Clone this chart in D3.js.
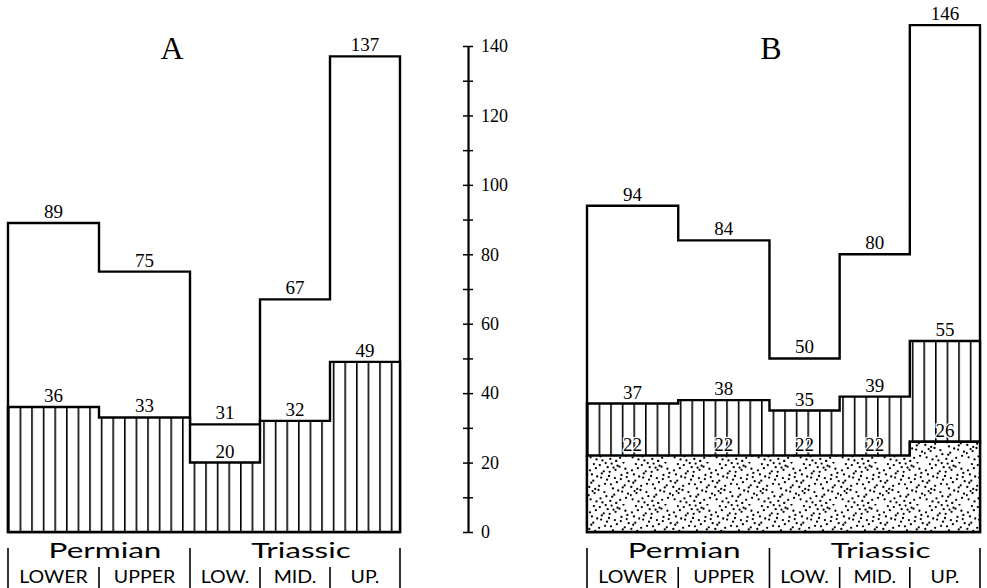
<!DOCTYPE html>
<html>
<head>
<meta charset="utf-8">
<script src="https://cdn.jsdelivr.net/npm/d3@7"></script>
<style>
  body { margin: 0; background: #fff; }
  svg { display: block; }
</style>
</head>
<body>
<div id="chart"></div>
<script>
// Geological time division (relative durations give the step widths)
let periods = ['Permian', 'Triassic'];
let periodStages = [2, 3];            // how many stages in each period
let stages = ['LOWER', 'UPPER', 'LOW.', 'MID.', 'UP.'];
let stageDuration = [1.3, 1.3, 1, 1, 1];

// Panel A: total and hatched values per stage
let totalA = [89, 75, 31, 67, 137];
let hatchA = [36, 33, 20, 32, 49];

// Panel B: total, hatched and stippled values per stage
let totalB = [94, 84, 50, 80, 146];
let hatchB = [37, 38, 35, 39, 55];
let dotsB = [22, 22, 22, 22, 26];

let yTicks = d3.range(0, 141, 10);

// Chart dimensions
let dim = { width: 987, height: 588 };

let svg = d3.select('#chart').append('svg')
    .attr('width', dim.width)
    .attr('height', dim.height);

// y scale shared by both panels
let y = d3.scaleLinear().domain([0, 140]).range([532, 46]);

// stage edges in time units
let edges = [0, ...d3.cumsum(stageDuration)];

let defs = svg.append('defs');

// vertical hatching, one pattern per panel so it starts at its left edge
function hatchPattern(id, x0) {
    let p = defs.append('pattern')
        .attr('id', id)
        .attr('patternUnits', 'userSpaceOnUse')
        .attr('x', x0)
        .attr('y', 0)
        .attr('width', 11.6)
        .attr('height', 20);
    p.append('rect').attr('width', 11.6).attr('height', 20).attr('fill', '#fff');
    p.append('line')
        .attr('x1', 0.8).attr('x2', 0.8)
        .attr('y1', 0).attr('y2', 20)
        .attr('stroke', '#000')
        .attr('stroke-width', 1.6);
}

// stipple: low discrepancy dots inside a tile
function halton(i, b) {
    let f = 1, r = 0;
    while (i > 0) { f /= b; r += f * (i % b); i = Math.floor(i / b); }
    return r;
}
let stip = defs.append('pattern')
    .attr('id', 'stipple')
    .attr('patternUnits', 'userSpaceOnUse')
    .attr('width', 42).attr('height', 42);
stip.append('rect').attr('width', 42).attr('height', 42).attr('fill', '#fff');
stip.selectAll('circle')
    .data(d3.range(1, 58))
    .join('circle')
    .attr('cx', i => halton(i, 2) * 42)
    .attr('cy', i => halton(i, 3) * 42)
    .attr('r', 1.15)
    .attr('fill', '#000');

let panels = [
    { name: 'A', x0: 8, x1: 400, titleX: 172, layers: [
        { vals: totalA, base: null, fill: '#fff' },
        { vals: hatchA, base: null, fill: 'url(#hatchA)' }
    ], labels: [totalA, hatchA] },
    { name: 'B', x0: 587, x1: 980, titleX: 771, layers: [
        { vals: totalB, base: null, fill: '#fff' },
        { vals: hatchB, base: dotsB, fill: 'url(#hatchB)' },
        { vals: dotsB, base: null, fill: 'url(#stipple)' }
    ], labels: [totalB, hatchB, dotsB] }
];

hatchPattern('hatchA', panels[0].x0);
hatchPattern('hatchB', panels[1].x0);

// closed step shape between vals and base (or the zero line)
function stepShape(x, vals, base) {
    let top = [];
    vals.forEach((v, i) => {
        top.push([x(edges[i]), y(v)], [x(edges[i + 1]), y(v)]);
    });
    let bottom = [];
    if (base) {
        base.forEach((v, i) => {
            bottom.push([x(edges[i]), y(v)], [x(edges[i + 1]), y(v)]);
        });
    } else {
        bottom = [[x(edges[0]), y(0)], [x(edges[edges.length - 1]), y(0)]];
    }
    return d3.line()(top.concat(bottom.reverse())) + 'Z';
}

panels.forEach(p => {
    let x = d3.scaleLinear()
        .domain([0, edges[edges.length - 1]])
        .range([p.x0, p.x1]);
    let g = svg.append('g');

    // step areas
    g.selectAll('path.layer')
        .data(p.layers)
        .join('path')
        .attr('class', 'layer')
        .attr('d', l => stepShape(x, l.vals, l.base))
        .attr('fill', l => l.fill)
        .attr('stroke', '#000')
        .attr('stroke-width', 2.4)
        .attr('stroke-linejoin', 'miter');

    // value labels just above each step
    p.labels.forEach((vals, k) => {
        g.selectAll('text.v' + k)
            .data(vals)
            .join('text')
            .attr('class', 'v' + k)
            .attr('x', (d, i) => x((edges[i] + edges[i + 1]) / 2))
            .attr('y', d => y(d) - 5)
            .attr('text-anchor', 'middle')
            .attr('font-family', '"Liberation Serif", "DejaVu Serif", serif')
            .attr('font-size', 19)
            .attr('paint-order', 'stroke')
            .attr('stroke', '#fff')
            .attr('stroke-width', k === 2 ? 2.5 : 0)
            .attr('fill', '#000')
            .text(d => d);
    });

    // panel letter
    g.append('text')
        .attr('x', p.titleX)
        .attr('y', 59)
        .attr('text-anchor', 'middle')
        .attr('font-family', '"Liberation Serif", serif')
        .attr('font-size', 32)
        .text(p.name);

    // time scale under the panel
    let pEdges = [0, ...d3.cumsum(periodStages)];
    let lab = g.append('g');
    lab.selectAll('line.per')
        .data(pEdges)
        .join('line')
        .attr('class', 'per')
        .attr('x1', d => x(edges[d])).attr('x2', d => x(edges[d]))
        .attr('y1', 548).attr('y2', 588)
        .attr('stroke', '#000').attr('stroke-width', 1.6);
    let inner = d3.range(1, stages.length).filter(i => !pEdges.includes(i));
    lab.selectAll('line.stg')
        .data(inner)
        .join('line')
        .attr('class', 'stg')
        .attr('x1', d => x(edges[d])).attr('x2', d => x(edges[d]))
        .attr('y1', 567).attr('y2', 588)
        .attr('stroke', '#000').attr('stroke-width', 1.6);

    lab.selectAll('text.per')
        .data(periods)
        .join('text')
        .attr('class', 'per')
        .attr('x', (d, i) => x((edges[pEdges[i]] + edges[pEdges[i + 1]]) / 2) + 6)
        .attr('y', 558)
        .attr('text-anchor', 'middle')
        .attr('font-family', 'Lato, "DejaVu Sans", sans-serif')
        .attr('font-size', 21)
        .text(d => d)
        .attr('textLength', function () { return this.getComputedTextLength() * 1.5; })
        .attr('lengthAdjust', 'spacingAndGlyphs');

    lab.selectAll('text.stg')
        .data(stages)
        .join('text')
        .attr('class', 'stg')
        .attr('x', (d, i) => x((edges[i] + edges[i + 1]) / 2))
        .attr('y', 583)
        .attr('text-anchor', 'middle')
        .attr('font-family', 'Lato, "DejaVu Sans", sans-serif')
        .attr('font-size', 17)
        .text(d => d)
        .attr('textLength', function () { return this.getComputedTextLength() * 1.15; })
        .attr('lengthAdjust', 'spacingAndGlyphs');
});

// central value axis
let axis = svg.append('g')
    .attr('transform', 'translate(468,0)')
    .call(d3.axisRight(y)
        .tickValues(yTicks)
        .tickSize(5)
        .tickSizeOuter(0)
        .tickPadding(8)
        .tickFormat(d => d % 20 === 0 ? d : ''));
axis.select('.domain').attr('stroke-width', 2.2);
axis.selectAll('.tick line').attr('x1', -5).attr('stroke-width', 1.5);
axis.selectAll('.tick text')
    .attr('font-family', '"Liberation Serif", serif')
    .attr('font-size', 18)
    .attr('fill', '#000');
</script>
</body>
</html>
